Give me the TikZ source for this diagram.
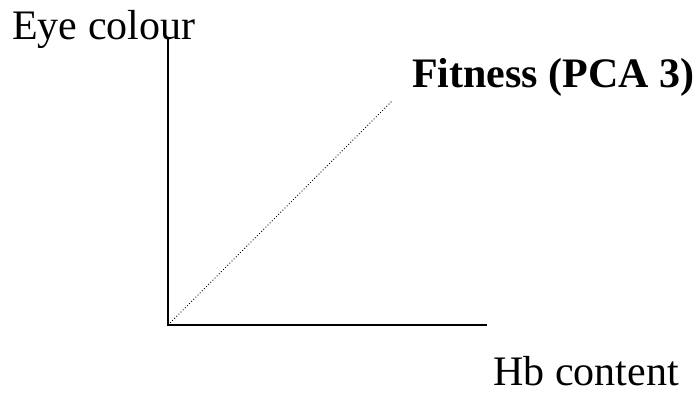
\documentclass[tikz,border=0pt]{standalone}
\usepackage{fontspec}
\setmainfont{Liberation Serif}
\usepackage{tikz}
\usetikzlibrary{positioning, calc}

\begin{document}
\begin{tikzpicture}[
    x=1pt, y=-1pt,
    axis/.style={draw, line width=2.8pt, line join=miter},
    pcaline/.style={draw, line width=0.9pt, dash pattern=on 0.9pt off 2.1pt},
    lbl/.style={inner sep=0pt, anchor=base west, font=\fontsize{42}{50}\selectfont},
    lblbold/.style={lbl, font=\fontsize{42}{50}\selectfont\bfseries}
]
\useasboundingbox (0,0) rectangle (698,393);

\coordinate (origin) at (168,325);
\coordinate (ytop) at (168,38);
\coordinate (xend) at (487,325);
\coordinate (pcaend) at (392,101);

\draw[axis] (ytop) -- (origin) -- (xend);
\draw[pcaline] (origin) -- (pcaend);

\node[lbl] (eye) at (12,40) {Eye colour};
\node[lblbold] (fit) at (412,88) {Fitness (PCA 3)};
\node[lbl] (hb) at (493,385) {Hb content};

\end{tikzpicture}
\end{document}
